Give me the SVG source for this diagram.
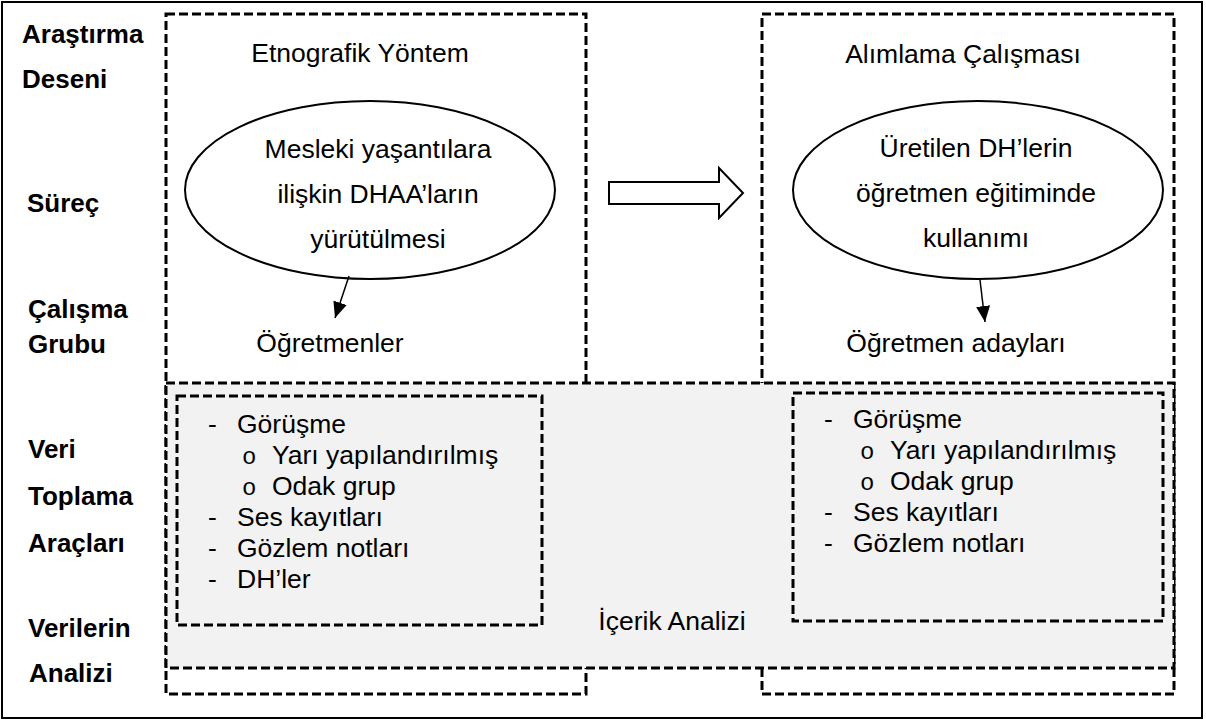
<svg xmlns="http://www.w3.org/2000/svg" width="1206" height="722" viewBox="0 0 1206 722">
<style>
text{font-family:"Liberation Sans",Arial,sans-serif;font-size:26.5px;fill:#000}
.lbl{font-weight:bold;font-size:26px}
.mid{text-anchor:middle}
.dash{fill:none;stroke:#000;stroke-width:3;stroke-dasharray:9 4}
.bul{font-family:"Liberation Mono","Courier New",monospace;font-size:24px}
.conn{stroke:#000;stroke-width:1.5;fill:none}
</style>
<defs>
<marker id="ah" viewBox="0 0 16 14" refX="16" refY="7" markerWidth="16" markerHeight="14" markerUnits="userSpaceOnUse" orient="auto">
<path d="M0,0 L16,7 L0,14 Z" fill="#000"/>
</marker>
</defs>
<rect x="0" y="0" width="1206" height="722" fill="#fff"/>
<rect x="2" y="2" width="1200" height="716" fill="none" stroke="#000" stroke-width="2"/>

<g id="labels">
<text class="lbl" x="22" y="43">Araştırma</text>
<text class="lbl" x="22" y="88">Deseni</text>
<text class="lbl" x="27" y="212">Süreç</text>
<text class="lbl" x="28" y="318">Çalışma</text>
<text class="lbl" x="28" y="353">Grubu</text>
<text class="lbl" x="28" y="458">Veri</text>
<text class="lbl" x="28" y="505">Toplama</text>
<text class="lbl" x="28" y="552">Araçları</text>
<text class="lbl" x="28" y="637">Verilerin</text>
<text class="lbl" x="29" y="682">Analizi</text>
</g>

<g id="box-etnografik">
<rect class="dash" x="166" y="14" width="420" height="680"/>
<text class="mid" x="360" y="62">Etnografik Yöntem</text>
</g>
<g id="box-alimlama">
<rect class="dash" x="762" y="14" width="412" height="680"/>
<text class="mid" x="963" y="63">Alımlama Çalışması</text>
</g>

<g id="ellipse-left">
<ellipse cx="370" cy="190" rx="185" ry="89" fill="#fff" stroke="#000" stroke-width="2"/>
<text class="mid" x="378" y="158">Mesleki yaşantılara</text>
<text class="mid" x="378" y="203">ilişkin DHAA’ların</text>
<text class="mid" x="378" y="248">yürütülmesi</text>
</g>
<g id="ellipse-right">
<ellipse cx="978" cy="190" rx="185" ry="89" fill="#fff" stroke="#000" stroke-width="2"/>
<text class="mid" x="976" y="157">Üretilen DH’lerin</text>
<text class="mid" x="976" y="202">öğretmen eğitiminde</text>
<text class="mid" x="976" y="247">kullanımı</text>
</g>

<g id="block-arrow">
<polygon points="609,182 719,182 719,168 743,193 719,218 719,204 609,204" fill="#fff" stroke="#000" stroke-width="2"/>
</g>

<g id="group-left">
<text class="mid" x="330" y="352">Öğretmenler</text>
</g>
<g id="group-right">
<text class="mid" x="956" y="352">Öğretmen adayları</text>
</g>

<g id="band-analysis">
<rect x="166" y="383" width="1008" height="285" fill="#f2f2f2" stroke="#000" stroke-width="3" stroke-dasharray="9 4"/>
<text class="mid" x="672" y="630">İçerik Analizi</text>
</g>

<g id="tools-left">
<rect class="dash" x="177" y="396" width="365" height="229"/>
<text x="208" y="433">-</text><text x="237" y="433">Görüşme</text>
<text class="bul" x="242" y="464">o</text><text x="272" y="464">Yarı yapılandırılmış</text>
<text class="bul" x="242" y="495">o</text><text x="272" y="495">Odak grup</text>
<text x="208" y="526">-</text><text x="237" y="526">Ses kayıtları</text>
<text x="208" y="557">-</text><text x="237" y="557">Gözlem notları</text>
<text x="208" y="588">-</text><text x="237" y="588">DH’ler</text>
</g>

<g id="tools-right">
<rect class="dash" x="793" y="393" width="370" height="228"/>
<text x="824" y="428">-</text><text x="853" y="428">Görüşme</text>
<text class="bul" x="860" y="459">o</text><text x="890" y="459">Yarı yapılandırılmış</text>
<text class="bul" x="860" y="490">o</text><text x="890" y="490">Odak grup</text>
<text x="824" y="521">-</text><text x="853" y="521">Ses kayıtları</text>
<text x="824" y="552">-</text><text x="853" y="552">Gözlem notları</text>
</g>

<g id="connectors">
<line class="conn" x1="349" y1="276" x2="335" y2="318" marker-end="url(#ah)"/>
<line class="conn" x1="980" y1="280" x2="985" y2="322" marker-end="url(#ah)"/>
</g>
</svg>
